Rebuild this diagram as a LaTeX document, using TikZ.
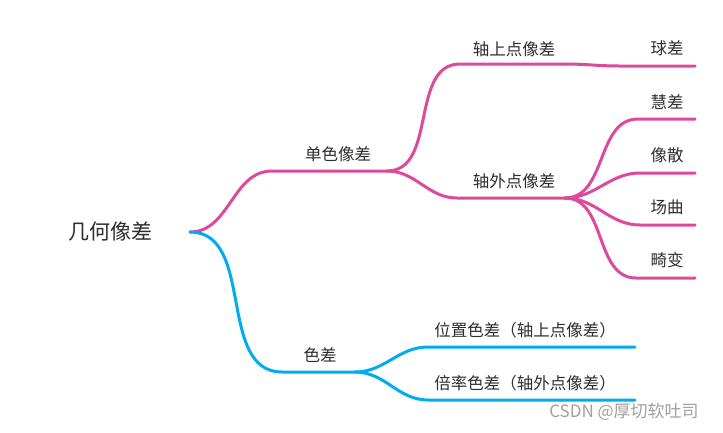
\documentclass[tikz,border=0pt]{standalone}
\usepackage{fontspec}
\newfontfamily\cjk{Noto Sans CJK SC}
\usetikzlibrary{positioning}
\definecolor{pinkbr}{RGB}{221,73,155}
\definecolor{bluebr}{RGB}{0,172,238}
\definecolor{txtgray}{RGB}{45,45,50}
\definecolor{markgray}{RGB}{160,160,160}
\tikzset{
  topic/.style={font=\cjk\fontsize{16.5}{19}\selectfont, text=txtgray, inner sep=0pt},
  roottopic/.style={topic, font=\cjk\fontsize{21}{24}\selectfont},
  pinkline/.style={draw=pinkbr, line width=3pt, line cap=round},
  blueline/.style={draw=bluebr, line width=3pt, line cap=round},
  branch/.style={out=0, in=180},
}

\begin{document}
\begin{tikzpicture}[x=1pt, y=-1pt]
\useasboundingbox (0,0) rectangle (723,432);
% Wurzel
\node[roottopic] (root) at (110,232) {几何像差};
\coordinate (rootR) at (190,232);

% Ebene 1
\node[topic] (ds) at (338,154) {单色像差};
\coordinate (dsL) at (272,171);
\coordinate (dsR) at (387,171);
\node[topic] (sc) at (320,355) {色差};
\coordinate (scL) at (282,372);
\coordinate (scR) at (355,372);

% Ebene 2
\node[topic] (zs) at (514,49) {轴上点像差};
\coordinate (zsL) at (460,64);
\coordinate (zsR) at (565,64);
\node[topic] (zw) at (514,181) {轴外点像差};
\coordinate (zwL) at (457,198);
\coordinate (zwR) at (565,198);
\node[topic] (wz) at (525,330) {位置色差（轴上点像差）};
\coordinate (wzL) at (428,347);
\coordinate (wzR) at (635,347);
\node[topic] (bl) at (525,383) {倍率色差（轴外点像差）};
\coordinate (blL) at (428,400);
\coordinate (blR) at (635,400);

% Ebene 3
\node[topic] (qc) at (667,48) {球差};
\coordinate (qcL) at (620,66);
\coordinate (qcR) at (695,66);
\node[topic] (hc) at (667,102) {慧差};
\coordinate (hcL) at (638,119);
\coordinate (hcR) at (695,119);
\node[topic] (xs) at (667,155) {像散};
\coordinate (xsL) at (640,173);
\coordinate (xsR) at (695,173);
\node[topic] (cq) at (667,207) {场曲};
\coordinate (cqL) at (640,225);
\coordinate (cqR) at (695,225);
\node[topic] (jb) at (667,260) {畸变};
\coordinate (jbL) at (636,278);
\coordinate (jbR) at (695,278);

% Aeste
\draw[pinkline] (rootR) to[branch] (dsL) -- (dsR);
\draw[blueline] (rootR) to[branch] (scL) -- (scR);
\draw[pinkline] (dsR) to[branch] (zsL) -- (zsR);
\draw[pinkline] (dsR) to[branch] (zwL) -- (zwR);
\draw[pinkline] (zsR) to[branch] (qcL) -- (qcR);
\foreach \k in {hc,xs,cq,jb} \draw[pinkline] (zwR) to[branch] (\k L) -- (\k R);
\draw[blueline] (scR) to[branch] (wzL) -- (wzR);
\draw[blueline] (scR) to[branch] (blL) -- (blR);

\node[font=\cjk\fontsize{17}{20}\selectfont, text=markgray, inner sep=0pt] (wm) at (624,412) {CSDN @厚切软吐司};
\end{tikzpicture}
\end{document}
